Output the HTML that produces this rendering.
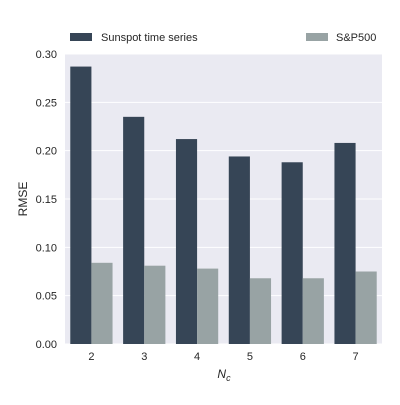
<!DOCTYPE html>
<html><head><meta charset="utf-8"><style>
body{margin:0;background:#fff;width:400px;height:400px;overflow:hidden}
text{font-family:"Liberation Sans",Arial,sans-serif;fill:#262626}
</style></head><body>
<svg id="chart" width="400" height="400" xmlns="http://www.w3.org/2000/svg">
<rect x="65" y="54" width="317" height="290" fill="#EAEAF2"/>
<g id="grid"></g><g id="bars"></g><g id="ticks"></g>
<g>
<rect x="70" y="33" width="22" height="8" fill="#364556"/>
<text x="101" y="41" font-size="11">Sunspot time series</text>
<rect x="306" y="33" width="22" height="8" fill="#98A3A4"/>
<text x="336" y="41" font-size="11">S&amp;P500</text>
</g>
<text transform="translate(27,199) rotate(-90)" text-anchor="middle" font-size="12">RMSE</text>
<text x="224" y="378" text-anchor="middle" font-size="12" font-style="italic">N<tspan font-size="9" dy="3">c</tspan></text>
</svg>
<script>
const categories=["2","3","4","5","6","7"];
const sunspot=[0.287,0.235,0.212,0.194,0.188,0.208];
const sp500=[0.084,0.081,0.078,0.068,0.068,0.075];
const yTicks=[0,0.05,0.10,0.15,0.20,0.25,0.30];
const yTickLabels=["0.00","0.05","0.10","0.15","0.20","0.25","0.30"];
const NS="http://www.w3.org/2000/svg";
const x0=65,x1=382,y0=344,y1=54,yMax=0.30;
const band=(x1-x0)/categories.length;
const y=v=>y0-(v/yMax)*(y0-y1);
const xc=i=>x0+band*(i+0.5);
function mk(tag,attrs,parent){const e=document.createElementNS(NS,tag);for(const k in attrs)e.setAttribute(k,attrs[k]);document.getElementById(parent).appendChild(e);return e;}
yTicks.forEach((t,i)=>{
 const l=mk('line',{x1:x0,x2:x1,y1:y(t),y2:y(t),stroke:'#fff','stroke-width':1},'grid');
 
 
 const tx=mk('text',{x:57,y:y(t)+4,'text-anchor':'end','font-size':11},'ticks');
 tx.textContent=yTickLabels[i];
 
 
});
const bw=band*0.4;
categories.forEach((c,i)=>{
 const a=mk('rect',{x:xc(i)-bw,y:y(sunspot[i]),width:bw,height:y0-y(sunspot[i]),fill:'#364556'},'bars');
 
 
 const b=mk('rect',{x:xc(i),y:y(sp500[i]),width:bw,height:y0-y(sp500[i]),fill:'#98A3A4'},'bars');
 
 
 const t=mk('text',{x:xc(i),y:360,'text-anchor':'middle','font-size':11},'ticks');
 t.textContent=c;
 
 
});
</script>
</body></html>
